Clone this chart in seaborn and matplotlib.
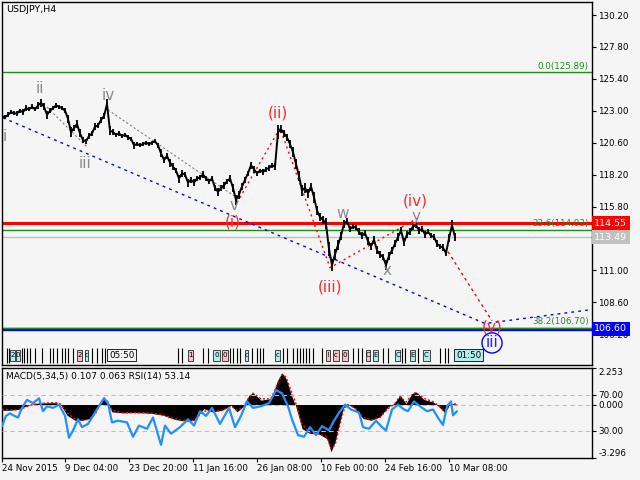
import matplotlib
matplotlib.use('Agg')
import matplotlib.pyplot as plt
import matplotlib.transforms as mtrans
from matplotlib.patches import Rectangle
import seaborn as sns
import pandas as pd

# ---------------- data ----------------
symbol_title = 'USDJPY,H4'
indicator_title = 'MACD(5,34,5) 0.107 0.063 RSI(14) 53.14'

# closing prices, one every 3 bars starting at bar 2
price_close = [
    122.6, 122.5, 122.7, 122.9, 122.8, 122.8, 123.0, 122.9, 123.2, 123.1,
    123.3, 123.1, 123.4, 123.6, 123.3, 122.7, 123.0, 123.2, 123.4, 123.3,
    123.2, 123.0, 122.4, 121.4, 121.7, 122.0, 121.3, 120.8, 120.7, 121.1,
    121.3, 121.8, 121.9, 122.3, 122.6, 123.5, 121.5, 121.4, 121.2, 121.3,
    121.1, 121.2, 121.0, 120.9, 120.4, 120.5, 120.4, 120.5, 120.6, 120.5,
    120.6, 120.7, 120.4, 119.8, 119.3, 119.6, 119.1, 118.8, 118.5, 117.9,
    118.3, 118.2, 117.6, 117.8, 117.6, 117.9, 118.0, 118.2, 117.9, 117.7,
    117.9, 117.2, 116.9, 117.2, 117.4, 117.7, 117.9, 117.2, 116.3, 116.7,
    117.3, 117.8, 118.3, 118.9, 118.6, 118.3, 118.5, 118.4, 118.6, 118.7,
    118.9, 118.8, 121.4, 121.6, 121.3, 121.0, 120.5, 119.9, 119.0, 118.1,
    117.0, 117.2, 116.8, 117.3, 116.5, 115.5, 115.0, 114.8, 114.5, 112.6,
    111.4, 112.2, 112.9, 113.6, 114.5, 114.7, 114.1, 114.3, 114.2, 113.9,
    113.6, 113.8, 113.2, 112.8, 113.3, 112.5, 112.2, 112.0, 111.4, 112.1,
    112.5, 113.0, 113.5, 114.0, 113.1, 113.7, 113.9, 114.3, 114.4, 114.0,
    114.1, 113.7, 113.9, 113.6, 113.5, 113.0, 112.8, 112.7, 112.3, 113.4,
    114.4, 113.5,
]
# high-low span of the bars around each close
price_span = [
    0.4, 0.3, 0.4, 0.3, 0.3, 0.4, 0.3, 0.4, 0.5, 0.3,
    0.4, 0.3, 0.5, 0.6, 0.5, 0.6, 0.4, 0.3, 0.4, 0.3,
    0.3, 0.4, 0.6, 0.7, 0.5, 0.6, 0.6, 0.5, 0.4, 0.5,
    0.4, 0.5, 0.4, 0.5, 0.4, 0.8, 0.7, 0.4, 0.3, 0.4,
    0.3, 0.3, 0.4, 0.3, 0.5, 0.3, 0.3, 0.3, 0.3, 0.3,
    0.3, 0.3, 0.4, 0.6, 0.5, 0.4, 0.6, 0.5, 0.4, 0.6,
    0.5, 0.4, 0.6, 0.5, 0.5, 0.4, 0.4, 0.5, 0.4, 0.4,
    0.4, 0.5, 0.6, 0.5, 0.5, 0.4, 0.5, 0.6, 0.8, 0.6,
    0.5, 0.5, 0.4, 0.5, 0.5, 0.4, 0.3, 0.4, 0.4, 0.4,
    0.4, 0.5, 1.0, 0.6, 0.5, 0.5, 0.6, 0.7, 0.7, 0.8,
    0.8, 0.7, 0.7, 0.6, 0.8, 0.7, 0.6, 0.6, 0.8, 1.0,
    0.9, 0.8, 0.7, 0.6, 0.6, 0.5, 0.5, 0.4, 0.4, 0.5,
    0.5, 0.5, 0.6, 0.5, 0.5, 0.6, 0.5, 0.5, 0.7, 0.6,
    0.5, 0.5, 0.6, 0.5, 0.6, 0.5, 0.5, 0.5, 0.4, 0.5,
    0.4, 0.5, 0.4, 0.4, 0.5, 0.5, 0.4, 0.5, 0.5, 0.6,
    0.8, 0.6,
]
price_bar = list(range(2, 2 + 3 * len(price_close), 3))

# horizontal levels
fib0_level = 125.89
fib236_level = 114.03
fib382_level = 106.70
red_level = 114.55
bid_level = 113.49
blue_level = 106.60

price_ticks = [130.20, 127.80, 125.40, 123.00, 120.60, 118.20, 115.80, 111.00, 108.60, 106.20]

# wave labels: (text, bar, price, colour key)
wave_text = ['i', 'ii', 'iii', 'iv', 'v', '(i)', '(ii)', '(iii)', 'w', 'x', 'y', '(iv)', '(v)', 'iii']
wave_bar = [5, 40, 85, 108, 234, 233, 278, 330, 343, 387, 416, 415, 492, 492]
wave_price = [121.03, 124.64, 119.07, 124.18, 115.85, 114.62, 122.83, 109.75, 115.31, 110.95, 115.05, 116.2, 106.74, 105.54]
wave_kind = ['g', 'g', 'g', 'g', 'g', 'r', 'r', 'r', 'g', 'g', 'g', 'r', 'r', 'b']

# wave trend lines
red_path_bar = [237, 280, 330, 418]
red_path_price = [116.1, 121.7, 111.2, 114.94]
red_proj_bar = [448, 492]
red_proj_price = [112.4, 107.2]
blue_path_bar = [3, 485, 592]
blue_path_price = [122.47, 107.0, 108.05]
gray1_bar = [47, 87]
gray1_price = [123.28, 120.28]
gray2_bar = [108, 237]
gray2_price = [123.06, 116.44]

# event strip markers
event_bars = [7, 9, 22, 24, 27, 30, 35, 42, 50, 53, 57, 62, 65, 68, 73, 92, 97, 102, 105,
              178, 182, 203, 208, 230, 233, 237, 240, 252, 257, 260, 263, 283, 287, 293, 297,
              300, 303, 306, 309, 313, 322, 353, 358, 362, 383, 388, 402, 405, 418, 440, 445, 448]
cyan_box_start = [10, 16, 85, 213, 245, 275, 373, 395, 410, 423]
cyan_box_end = [15, 20, 88, 220, 248, 280, 378, 400, 415, 430]
cyan_box_text = ['2', '0', 'c', '0', 'c', 'c', 'E', 'C', 'E', 'C']
pink_box_start = [77, 188, 222, 326, 333, 342, 366]
pink_box_end = [82, 193, 228, 330, 339, 348, 370]
pink_box_text = ['2', '1', '0', '!', 'c', '0', 'C']
timer_bars = [108, 455]
timer_text = ['05:50', '01:50']

# MACD histogram / signal
macd_bar = [2, 10, 18, 24, 30, 37, 45, 52, 57, 61, 67, 75, 82, 90, 96, 100, 104, 108, 112, 122,
            132, 143, 153, 163, 175, 186, 194, 204, 212, 222, 231, 237, 243, 249, 253, 261, 271,
            278, 282, 286, 292, 296, 302, 310, 318, 327, 331, 335, 339, 343, 347, 355, 363, 371,
            380, 388, 394, 400, 406, 412, 416, 424, 433, 439, 445, 449, 453, 457]
macd_main = [-0.35, -0.35, -0.30, -0.14, 0.00, 0.08, 0.10, 0.12, 0.10, -0.04,
             -0.66, -0.97, -0.97, -0.86, -0.35, 0.16, 0.43, 0.06, -0.45, -0.51,
             -0.50, -0.51, -0.55, -0.66, -0.92, -1.03, -0.97, -0.25, -0.45, -0.35,
             -0.04, -0.45, -0.14, 0.58, 0.72, 0.27, 0.37, 1.54, 1.95, 1.60,
             0.47, -0.14, -1.48, -1.79, -1.79, -2.10, -2.92, -2.30, -1.27, -0.25,
             0.06, -0.25, -0.86, -0.97, -0.76, -0.14, 0.06, 0.58, 0.06, 0.68,
             0.78, 0.31, 0.16, -0.14, -0.51, -0.04, 0.06, 0.02]
macd_signal = [-0.30, -0.33, -0.32, -0.20, -0.05, 0.05, 0.09, 0.11, 0.11, 0.02,
               -0.50, -0.90, -0.97, -0.90, -0.50, 0.05, 0.38, 0.15, -0.35, -0.50,
               -0.50, -0.50, -0.54, -0.63, -0.88, -1.00, -0.98, -0.40, -0.42, -0.37,
               -0.10, -0.35, -0.20, 0.45, 0.70, 0.35, 0.35, 1.35, 1.85, 1.70,
               0.70, 0.05, -1.20, -1.75, -1.80, -2.00, -2.70, -2.50, -1.50, -0.45,
               0.00, -0.20, -0.78, -0.95, -0.80, -0.25, 0.00, 0.50, 0.15, 0.60,
               0.75, 0.38, 0.18, -0.08, -0.45, -0.12, 0.03, 0.04]
macd_min, macd_max = -3.296, 2.253

# RSI
rsi_bar = [2, 6, 10, 14, 18, 22, 27, 33, 39, 43, 47, 53, 59, 65, 69, 73, 78, 82, 88, 94,
           100, 104, 108, 112, 118, 127, 133, 139, 147, 153, 161, 165, 171, 180, 188, 194,
           200, 206, 212, 220, 229, 235, 241, 247, 253, 261, 269, 276, 282, 288, 292, 298,
           304, 310, 316, 322, 329, 333, 339, 345, 351, 359, 363, 369, 376, 382, 386, 392,
           398, 404, 408, 414, 420, 427, 433, 439, 443, 447, 451, 453, 457]
rsi_val = [35.4, 46.8, 49.6, 47.0, 45.0, 55.7, 64.6, 61.0, 66.4, 52.0, 57.5, 55.7, 59.3, 46.8,
           22.5, 30.7, 43.0, 34.3, 37.9, 48.6, 59.3, 66.4, 61.0, 39.6, 41.4, 39.6, 23.6, 36.0,
           32.5, 45.0, 14.6, 36.0, 27.0, 34.3, 43.0, 36.0, 52.0, 46.8, 55.7, 37.9, 55.7, 34.3,
           46.8, 62.9, 55.7, 57.5, 61.0, 75.4, 71.8, 57.5, 43.0, 25.4, 23.6, 34.3, 25.4, 35.4,
           30.7, 39.6, 50.4, 59.3, 53.9, 50.4, 34.3, 32.5, 41.4, 34.3, 30.7, 53.9, 59.3, 53.9,
           52.0, 62.9, 57.5, 52.0, 53.9, 43.0, 36.8, 57.5, 62.9, 47.5, 52.0]
rsi_levels = [70, 30]

date_bars = [2, 65, 129, 193, 257, 321, 385, 449]
date_labels = ['24 Nov 2015', '9 Dec 04:00', '23 Dec 20:00', '11 Jan 16:00',
               '26 Jan 08:00', '10 Feb 00:00', '24 Feb 16:00', '10 Mar 08:00']

# ---------------- style ----------------
sns.set_theme(style='white')
plt.rcParams['font.family'] = ['DejaVu Sans']
BG = '#f5f5f5'
GREEN = '#1f8a1f'
RED = '#ff0000'
BLUE = '#0000ff'
WAVE_COL = {'g': '#8a8a8a', 'r': '#ff2a2a', 'b': '#2222ff'}
FS = 6.3

fig = plt.figure(figsize=(6.4, 4.8), dpi=100, facecolor=BG)
ax = fig.add_axes([2 / 640, 1 - 365 / 480, 590 / 640, 363 / 480])
ax2 = fig.add_axes([2 / 640, 1 - 458 / 480, 590 / 640, 90 / 480])
for a in (ax, ax2):
    a.set_facecolor(BG)
    for s in a.spines.values():
        s.set_color('black')
        s.set_linewidth(1)

# ---------------- main price panel ----------------
ax.set_xlim(2, 592)
ax.set_ylim(103.88, 131.18)

# levels
ax.axhline(fib0_level, color=GREEN, lw=1, zorder=1)
ax.axhline(bid_level, color='#c0c0c0', lw=1, zorder=1)
ax.axhline(blue_level, color=BLUE, lw=2.4, zorder=1)
ax.axhline(fib382_level, color=GREEN, lw=1, zorder=1.1)
ax.axhline(fib236_level, color=GREEN, lw=1, zorder=1)
ax.axhline(red_level, color=RED, lw=2.2, zorder=1.2)

ax.text(589, fib0_level + 0.12, f'0.0({fib0_level:.2f})', ha='right', va='bottom', color=GREEN, fontsize=FS)
ax.text(589, fib236_level + 0.12, f'23.6({fib236_level:.2f})', ha='right', va='bottom', color=GREEN, fontsize=FS)
ax.text(589, fib382_level + 0.12, f'38.2({fib382_level:.2f})', ha='right', va='bottom', color=GREEN, fontsize=FS)

# trend lines
ax.plot(blue_path_bar, blue_path_price, color=BLUE, lw=1, ls=(0, (2, 3)), zorder=2)
ax.plot(gray1_bar, gray1_price, color='#808080', lw=0.8, ls=(0, (2, 2)), zorder=2)
ax.plot(gray2_bar, gray2_price, color='#808080', lw=0.8, ls=(0, (2, 2)), zorder=2)
ax.plot(red_path_bar, red_path_price, color=RED, lw=1, ls=(0, (1.5, 2.5)), zorder=2)
ax.plot(red_proj_bar, red_proj_price, color=RED, lw=1, ls=(0, (2, 2.5)), zorder=2)

# price bars + close line
price_df = pd.DataFrame({'bar': price_bar, 'close': price_close, 'span': price_span})
ax.vlines(price_df['bar'], price_df['close'] - price_df['span'] / 2,
          price_df['close'] + price_df['span'] / 2, color='black', lw=1.3, zorder=3)
sns.lineplot(data=price_df, x='bar', y='close', ax=ax, color='black', lw=1.4,
             estimator=None, zorder=3)
ax.set_xlabel('')
ax.set_ylabel('')

# wave labels
for t, b, p, k in zip(wave_text, wave_bar, wave_price, wave_kind):
    ax.text(b, p, t, ha='center', va='center', color=WAVE_COL[k], fontsize=11, zorder=5)
ax.scatter([wave_bar[-1]], [wave_price[-1]], s=210, facecolors='none', edgecolors=BLUE, lw=1, zorder=5)

# event strip
xt = ax.get_xaxis_transform()
ax.vlines(event_bars, 0.006, 0.047, transform=xt, color='black', lw=0.8, zorder=4)
for x0, x1, t in zip(cyan_box_start, cyan_box_end, cyan_box_text):
    ax.add_patch(Rectangle((x0, 0.012), x1 - x0, 0.03, transform=xt, fc='#b4ecec', ec='black', lw=0.5, zorder=4))
    ax.text((x0 + x1) / 2, 0.027, t, transform=xt, ha='center', va='center', fontsize=5, color='black', zorder=5)
for x0, x1, t in zip(pink_box_start, pink_box_end, pink_box_text):
    ax.add_patch(Rectangle((x0, 0.012), x1 - x0, 0.03, transform=xt, fc='#f8c0c8', ec='black', lw=0.5, zorder=4))
    ax.text((x0 + x1) / 2, 0.027, t, transform=xt, ha='center', va='center', fontsize=5, color='black', zorder=5)
for b, t, fc in zip(timer_bars, timer_text, [BG, '#b4ecec']):
    ax.text(b + 1, 0.027, t, transform=xt, ha='left', va='center', fontsize=FS, color='black', zorder=5,
            bbox=dict(boxstyle='square,pad=0.2', fc=fc, ec='black', lw=0.6))

# right axis
ax.yaxis.tick_right()
ax.set_yticks(price_ticks)
ax.set_yticklabels([f'{v:.2f}' for v in price_ticks])
ax.tick_params(axis='y', direction='out', length=3, width=0.8, labelsize=FS, pad=1.5, colors='black', right=True)
ax.set_xticks([])

ytr = mtrans.blended_transform_factory(ax.transAxes, ax.transData)
for lvl, fc, tc in [(red_level, RED, 'white'), (bid_level, '#c0c0c0', 'white'), (blue_level, BLUE, 'white')]:
    ax.text(1.004, lvl, f'{lvl:.2f}', transform=ytr, ha='left', va='center', color=tc, fontsize=FS + 0.5,
            clip_on=False, zorder=10,
            bbox=dict(boxstyle='square,pad=0.25', fc=fc, ec=fc, lw=0))

fig.text(6 / 640, 1 - 10 / 480, symbol_title, ha='left', va='center', fontsize=6.8, color='black')

# ---------------- MACD / RSI panel ----------------
ax2.set_xlim(2, 592)
ax2.set_ylim(macd_min, macd_max)
ax2.axhline(0, color='#c0c0c0', lw=0.8, ls=(0, (4, 3)), zorder=1)
ax2.fill_between(macd_bar, 0, macd_main, color='black', lw=0, zorder=2)
ax2.plot(macd_bar, macd_signal, color=RED, lw=1, ls=(0, (1.5, 1.5)), zorder=3)

ax3 = ax2.twinx()
ax3.set_ylim(0, 100)
for lv in rsi_levels:
    ax3.axhline(lv, color='#c0c0c0', lw=0.8, ls=(0, (4, 3)), zorder=1)
rsi_df = pd.DataFrame({'bar': rsi_bar, 'rsi': rsi_val})
sns.lineplot(data=rsi_df, x='bar', y='rsi', ax=ax3, color='#1e90ff', lw=1.6, estimator=None, zorder=4)
ax3.set_xlabel('')
ax3.set_ylabel('')
for s in ax3.spines.values():
    s.set_visible(False)

ax2.yaxis.tick_right()
ax2.set_yticks([macd_max, 0, macd_min])
ax2.set_yticklabels([f'{macd_max:.3f}', '0.000', f'{macd_min:.3f}'])
ax2.tick_params(axis='y', direction='out', length=3, width=0.8, labelsize=FS, pad=1.5, colors='black', right=True, left=False)
lbls = ax2.get_yticklabels()
lbls[0].set_va('top')
lbls[2].set_va('bottom')
ax3.set_yticks(rsi_levels)
ax3.set_yticklabels([f'{v:.2f}' for v in rsi_levels])
ax3.tick_params(axis='y', direction='out', length=3, width=0.8, labelsize=FS, pad=1.5, colors='black')

ax2.set_xticks(date_bars)
ax2.set_xticklabels(date_labels, ha='left')
ax2.tick_params(axis='x', direction='out', length=3, width=0.8, labelsize=FS, pad=1.5, colors='black', bottom=True)

fig.text(6 / 640, 1 - 376 / 480, indicator_title, ha='left', va='center', fontsize=6.5, color='black')

fig.savefig('out.png', dpi=100, facecolor=BG)
